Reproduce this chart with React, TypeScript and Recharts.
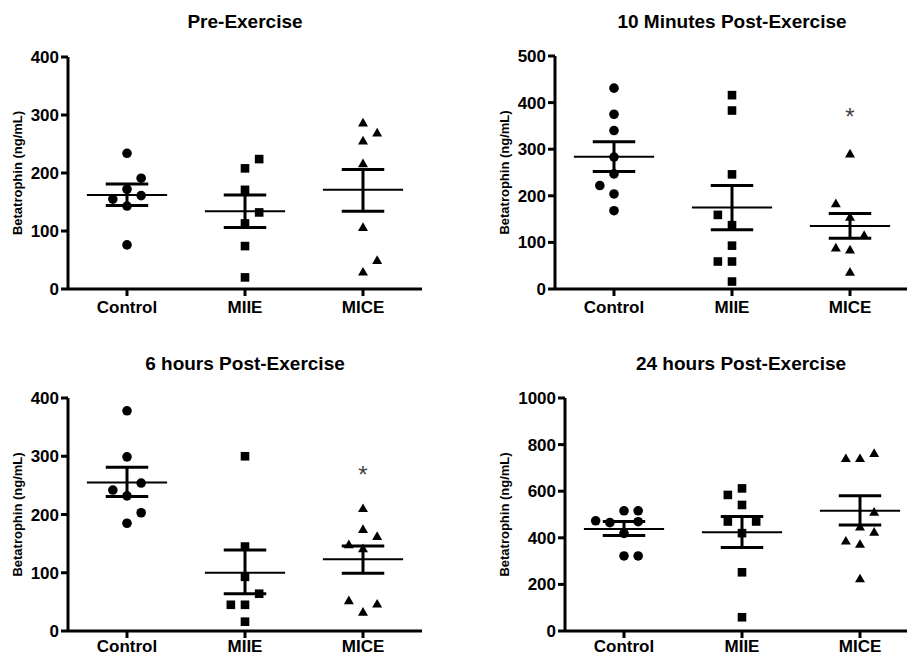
import React from 'react';
import { ScatterChart, Scatter, XAxis, YAxis, ReferenceLine, Label } from 'recharts';

const FONT = '"Liberation Sans", Arial, Helvetica, sans-serif';

const groups = ['Control', 'MIIE', 'MICE'];

// Pre-Exercise
const preControl = [234, 191, 172, 161, 155, 143, 76];
const preControlCol = [0, 1, 0, 1, -1, 0, 0];
const preMIIE = [224, 208, 171, 132, 113, 74, 20];
const preMIIECol = [1, 0, 0, 1, 0, 0, 0];
const preMICE = [287, 270, 256, 217, 107, 50, 30];
const preMICECol = [0, 1, 0, 0, 0, 1, 0];
const preMean = [162, 134, 171];
const preHigh = [181, 162, 206];
const preLow = [144, 106, 134];

// 10 minutes post
const m10Control = [431, 375, 340, 283, 247, 222, 204, 168];
const m10ControlCol = [0, 0, 0, 0, 0, -1, 0, 0];
const m10MIIE = [416, 383, 246, 159, 137, 93, 59, 59, 16];
const m10MIIECol = [0, 0, 0, -1, 0, 0, -1, 0, 0];
const m10MICE = [291, 184, 155, 116, 89, 85, 37];
const m10MICECol = [0, -1, 0, 1, -1, 0, 0];
const m10Mean = [284, 175, 135];
const m10High = [316, 222, 162];
const m10Low = [252, 127, 109];

// 6 hours post
const h6Control = [378, 299, 254, 242, 232, 203, 185];
const h6ControlCol = [0, 0, 1, -1, 0, 1, 0];
const h6MIIE = [300, 145, 93, 64, 45, 45, 16];
const h6MIIECol = [0, 0, 0, 1, -1, 0, 0];
const h6MICE = [211, 175, 163, 149, 142, 53, 47, 33];
const h6MICECol = [0, 0, 1, -1, 0, -1, 1, 0];
const h6Mean = [255, 100, 123];
const h6High = [281, 139, 146];
const h6Low = [231, 64, 99];

// 24 hours post
const h24Control = [516, 516, 473, 465, 469, 419, 322, 322];
const h24ControlCol = [0, 1, -2, -1, 1, 0, 0, 1];
const h24MIIE = [612, 584, 541, 470, 470, 420, 252, 59];
const h24MIIECol = [0, -1, 0, -1, 1, 0, 0, 0];
const h24MICE = [764, 742, 742, 512, 448, 426, 388, 374, 226];
const h24MICECol = [1, -1, 0, 1, 0, 1, -1, 0, 0];
const h24Mean = [438, 424, 516];
const h24High = [470, 491, 581];
const h24Low = [410, 358, 455];

const ticks400 = [0, 100, 200, 300, 400];
const ticks500 = [0, 100, 200, 300, 400, 500];
const ticks1000 = [0, 200, 400, 600, 800, 1000];

const JIT = 0.12;
const MEAN_HALF = 0.34;
const CAP_HALF = 0.18;

const Dot = (p: any) => <circle cx={p.cx} cy={p.cy} r={4.8} fill="#000" />;
const Sq = (p: any) => <rect x={p.cx - 4.3} y={p.cy - 4.3} width={8.6} height={8.6} fill="#000" />;
const Tri = (p: any) => (
  <polygon points={`${p.cx},${p.cy - 4.7} ${p.cx + 5},${p.cy + 4} ${p.cx - 5},${p.cy + 4}`} fill="#000" />
);
const Star = (p: any) => (
  <text x={p.cx} y={p.cy + 10} textAnchor="middle" fontSize={24} fill="#444" fontFamily={FONT}>*</text>
);

const shapes = [Dot, Sq, Tri];

const toPoints = (vals: number[], cols: number[], g: number) =>
  vals.map((v, i) => ({ x: g + 1 + cols[i] * JIT, y: v }));

const tickStyle = { fill: '#000', fontSize: 17, fontWeight: 'bold', fontFamily: FONT };

function Panel(props: any) {
  const { cfg } = props;
  const labelX = cfg.labelX;
  return (
    <div style={{ position: 'absolute', left: cfg.left, top: cfg.top }}>
      <ScatterChart
        width={cfg.width}
        height={cfg.height}
        margin={{ top: cfg.mTop, right: cfg.mRight, bottom: 0, left: 0 }}
      >
        <XAxis
          type="number"
          dataKey="x"
          domain={[0.5, 3.5]}
          ticks={[1, 2, 3]}
          interval={0}
          tickFormatter={(v: number) => groups[v - 1]}
          height={cfg.xh}
          tick={tickStyle}
          tickSize={7}
          tickMargin={cfg.xMargin}
          axisLine={{ stroke: '#000', strokeWidth: 3 }}
          tickLine={{ stroke: '#000', strokeWidth: 3 }}
        />
        <YAxis
          type="number"
          dataKey="y"
          domain={[0, cfg.yMax]}
          ticks={cfg.ticks}
          interval={0}
          width={cfg.yw}
          tick={tickStyle}
          tickSize={7}
          tickMargin={2}
          axisLine={{ stroke: '#000', strokeWidth: 3 }}
          tickLine={{ stroke: '#000', strokeWidth: 3 }}
        >
          <Label
            content={(lp: any) => {
              const vb = lp.viewBox || { x: 0, y: 0, height: 0 };
              const x = vb.x + labelX;
              const y = vb.y + vb.height / 2;
              return (
                <text
                  x={x}
                  y={y}
                  transform={`rotate(-90 ${x} ${y})`}
                  textAnchor="middle"
                  fontSize={13}
                  fontWeight="bold"
                  fontFamily={FONT}
                  fill="#000"
                >
                  Betatrophin (ng/mL)
                </text>
              );
            }}
          />
        </YAxis>
        {cfg.series.map((s: any, g: number) => (
          <Scatter
            key={groups[g]}
            data={toPoints(s[0], s[1], g)}
            shape={shapes[g]}
            isAnimationActive={false}
          />
        ))}
        {cfg.star != null && (
          <Scatter data={[{ x: 3, y: cfg.star }]} shape={Star} isAnimationActive={false} />
        )}
        {cfg.mean.map((m: number, g: number) => (
          <ReferenceLine
            key={'m' + g}
            segment={[{ x: g + 1 - MEAN_HALF, y: m }, { x: g + 1 + MEAN_HALF, y: m }]}
            stroke="#000"
            strokeWidth={2}
          />
        ))}
        {cfg.mean.map((m: number, g: number) => (
          <ReferenceLine
            key={'v' + g}
            segment={[{ x: g + 1, y: cfg.low[g] }, { x: g + 1, y: cfg.high[g] }]}
            stroke="#000"
            strokeWidth={3}
          />
        ))}
        {cfg.mean.map((m: number, g: number) => (
          <ReferenceLine
            key={'h' + g}
            segment={[{ x: g + 1 - CAP_HALF, y: cfg.high[g] }, { x: g + 1 + CAP_HALF, y: cfg.high[g] }]}
            stroke="#000"
            strokeWidth={3}
          />
        ))}
        {cfg.mean.map((m: number, g: number) => (
          <ReferenceLine
            key={'l' + g}
            segment={[{ x: g + 1 - CAP_HALF, y: cfg.low[g] }, { x: g + 1 + CAP_HALF, y: cfg.low[g] }]}
            stroke="#000"
            strokeWidth={3}
          />
        ))}
      </ScatterChart>
    </div>
  );
}

const panels = [
  {
    title: 'Pre-Exercise', left: 0, top: 0, width: 453, height: 320, mTop: 57, mRight: 31, yw: 68, xh: 31, xMargin: 5,
    labelX: 22, yMax: 400, ticks: ticks400, titleX: 245, titleY: 28,
    series: [[preControl, preControlCol], [preMIIE, preMIIECol], [preMICE, preMICECol]],
    mean: preMean, high: preHigh, low: preLow, star: null,
  },
  {
    title: '10 Minutes Post-Exercise', left: 453, top: 0, width: 460, height: 320, mTop: 56, mRight: 4, yw: 102, xh: 31, xMargin: 5,
    labelX: 56, yMax: 500, ticks: ticks500, titleX: 732, titleY: 28,
    series: [[m10Control, m10ControlCol], [m10MIIE, m10MIIECol], [m10MICE, m10MICECol]],
    mean: m10Mean, high: m10High, low: m10Low, star: 373,
  },
  {
    title: '6 hours Post-Exercise', left: 0, top: 320, width: 453, height: 337, mTop: 78, mRight: 31, yw: 68, xh: 26, xMargin: 2,
    labelX: 22, yMax: 400, ticks: ticks400, titleX: 245, titleY: 370,
    series: [[h6Control, h6ControlCol], [h6MIIE, h6MIIECol], [h6MICE, h6MICECol]],
    mean: h6Mean, high: h6High, low: h6Low, star: 271,
  },
  {
    title: '24 hours Post-Exercise', left: 453, top: 320, width: 470, height: 337, mTop: 78, mRight: 4, yw: 112, xh: 26, xMargin: 2,
    labelX: 56, yMax: 1000, ticks: ticks1000, titleX: 741, titleY: 370,
    series: [[h24Control, h24ControlCol], [h24MIIE, h24MIIECol], [h24MICE, h24MICECol]],
    mean: h24Mean, high: h24High, low: h24Low, star: null,
  },
];

export default function App() {
  return (
    <div
      style={{
        position: 'absolute',
        left: 0,
        top: 0,
        width: 907,
        height: 657,
        overflow: 'hidden',
        background: '#fff',
      }}
    >
      {panels.map((p) => (
        <React.Fragment key={p.title}>
          <Panel cfg={p} />
          <div
            style={{
              position: 'absolute',
              left: p.titleX - 200,
              width: 400,
              top: p.titleY - 16,
              textAlign: 'center',
              fontSize: 19,
              lineHeight: '19px',
              fontWeight: 'bold',
              fontFamily: FONT,
              color: '#000',
            }}
          >
            {p.title}
          </div>
        </React.Fragment>
      ))}
    </div>
  );
}
